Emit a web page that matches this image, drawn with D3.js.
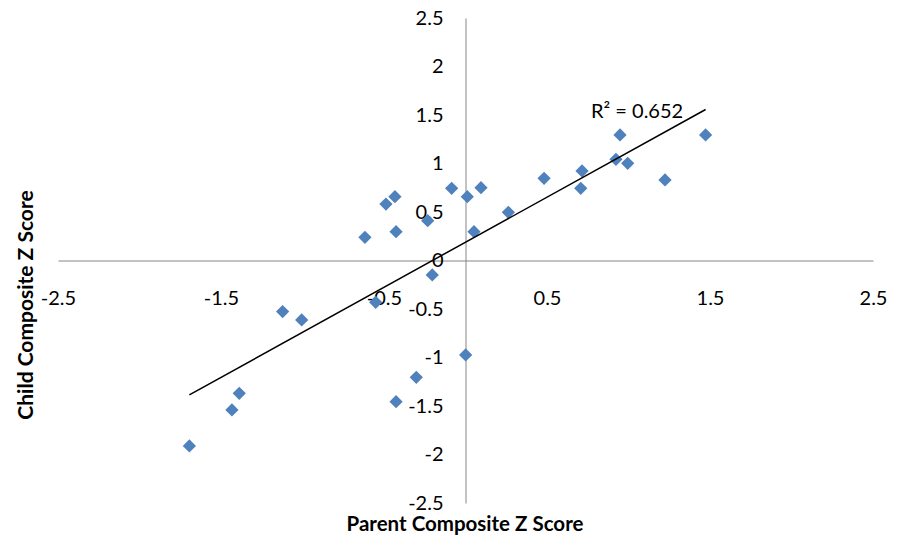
<!DOCTYPE html>
<html><head><meta charset="utf-8">
<script src="https://cdn.jsdelivr.net/npm/d3@7"></script>
<style>body{margin:0;background:#fff}</style>
</head><body>
<svg id="c" width="899" height="536"></svg>
<script>
const parentZ = [-0.617,-0.488,-0.433,-0.426,-0.232,-0.085,0.011,0.095,0.052,0.263,0.482,0.715,0.707,0.948,0.923,0.995,1.224,1.473,-0.204,-1.122,-1.005,-0.551,-0.302,-0.426,-1.388,-1.433,-1.694,0.001];
const childZ  = [0.239,0.582,0.658,0.297,0.41,0.744,0.658,0.751,0.297,0.497,0.847,0.923,0.744,1.294,1.043,1.002,0.83,1.294,-0.149,-0.527,-0.613,-0.431,-1.204,-1.455,-1.369,-1.541,-1.912,-0.974];
const xTicks = [-2.5,-1.5,-0.5,0.5,1.5,2.5];
const yTicks = [-2.5,-2,-1.5,-1,-0.5,0,0.5,1,1.5,2,2.5];
const r2Label = "R² = 0.652";
const xTitle = "Parent Composite Z Score";
const yTitle = "Child Composite Z Score";

const svg = d3.select("#c");
const x = d3.scaleLinear().domain([-2.5,2.5]).range([58,873]);
const y = d3.scaleLinear().domain([-2.5,2.5]).range([503,18]);
const font = "Lato, 'Open Sans', sans-serif";
const fmt = d => String(d);

const xAxis = d3.axisBottom(x).tickValues(xTicks).tickSize(0).tickFormat(fmt);
const gx = svg.append("g").attr("transform",`translate(0,${y(0)})`).call(xAxis);
gx.select(".domain").attr("stroke","#868686");
gx.selectAll("text").attr("dy",0).attr("y",44).style("font-family",font).style("font-size","20px").attr("fill","#000");

const yAxis = d3.axisLeft(y).tickValues(yTicks).tickSize(0).tickFormat(fmt);
const gy = svg.append("g").attr("transform",`translate(${x(0)},0)`).call(yAxis);
gy.select(".domain").attr("stroke","#868686");
gy.selectAll("text").attr("x",-22).attr("dy","0.3em").style("font-family",font).style("font-size","20px").attr("fill","#000");

// trendline (least squares)
const n = parentZ.length;
const mx = d3.mean(parentZ), my = d3.mean(childZ);
let sxy=0,sxx=0;
for(let i=0;i<n;i++){sxy+=(parentZ[i]-mx)*(childZ[i]-my);sxx+=(parentZ[i]-mx)**2;}
const slope = sxy/sxx, icpt = my - slope*mx;
const [x0,x1] = d3.extent(parentZ);

const pts = parentZ.map((v,i)=>[v,childZ[i]]);
svg.append("g").selectAll("path").data(pts).join("path")
  .attr("d",d3.symbol().type(d3.symbolDiamond2).size(112))
  .attr("transform",d=>`translate(${x(d[0])},${y(d[1])})`)
  .attr("fill","#4F81BD");

svg.append("line")
  .attr("x1",x(x0)).attr("y1",y(icpt+slope*x0))
  .attr("x2",x(x1)).attr("y2",y(icpt+slope*x1))
  .attr("stroke","#000").attr("stroke-width",1.5);

svg.append("text").attr("x",591).attr("y",118).text(r2Label)
  .style("font-family",font).style("font-size","20px");

svg.append("text").attr("x",465).attr("y",531).attr("text-anchor","middle").text(xTitle)
  .style("font-family",font).style("font-size","20.5px").style("font-weight","bold");
svg.append("text").attr("transform","translate(33,305) rotate(-90)").attr("text-anchor","middle").text(yTitle)
  .style("font-family",font).style("font-size","21px").style("font-weight","bold");
</script>
</body></html>
